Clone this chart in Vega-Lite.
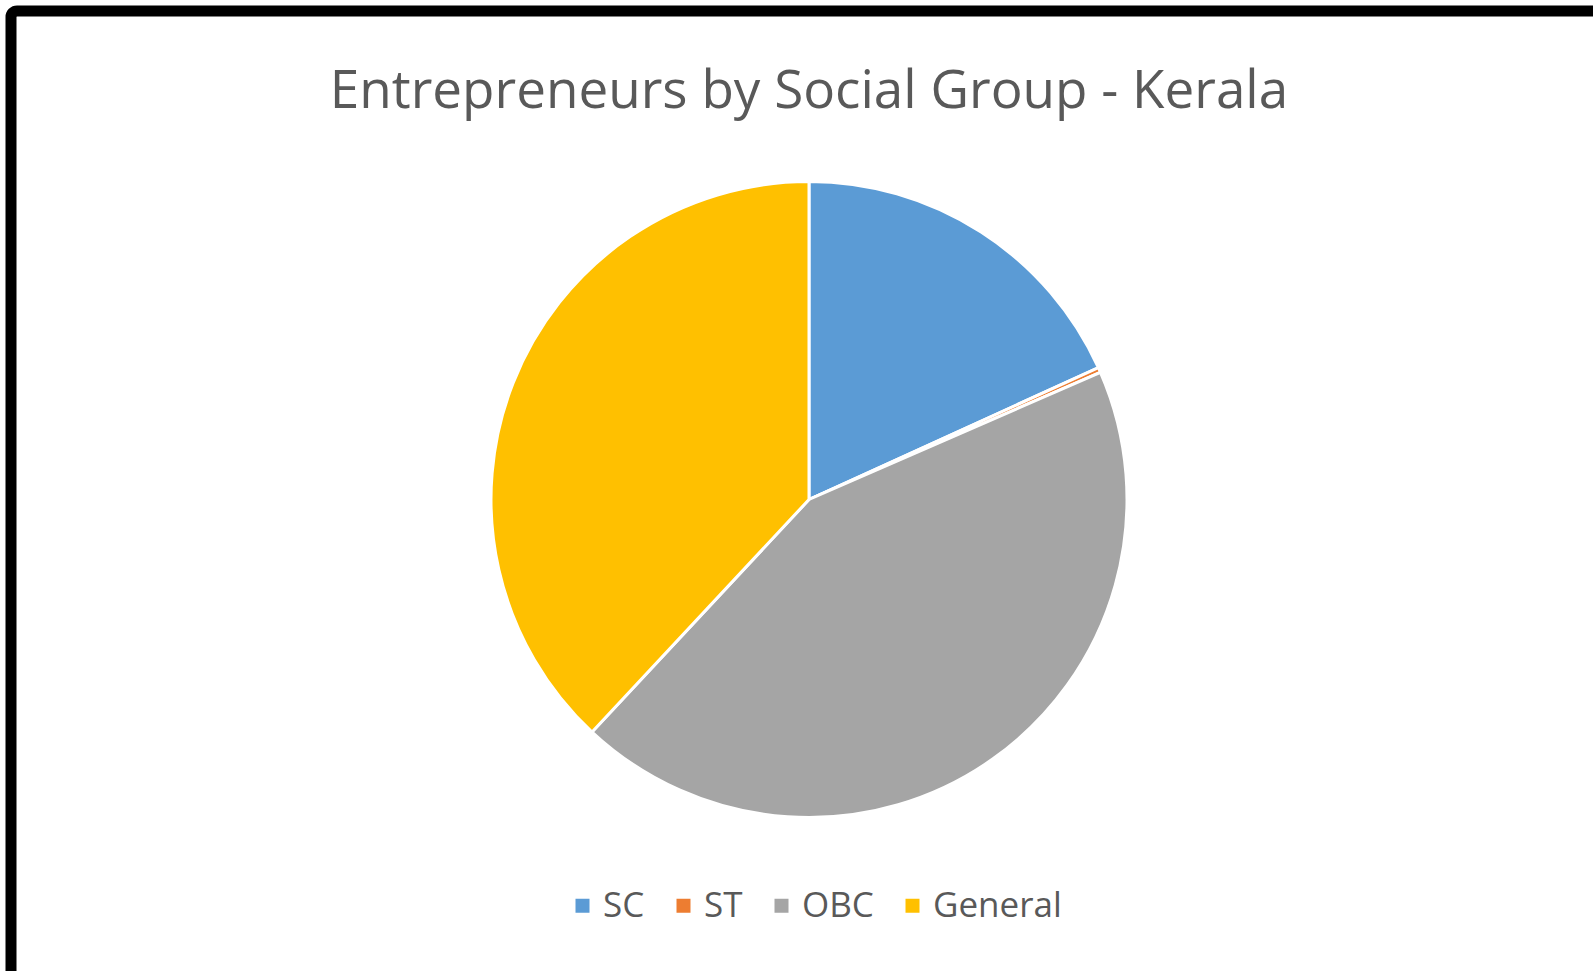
{
  "$schema": "https://vega.github.io/schema/vega-lite/v6.json",
  "autosize": {"type": "none"},
  "padding": {"left": 11, "top": 11, "right": 0, "bottom": 0},
  "width": 1596,
  "height": 977,
  "background": "white",
  "view": {"stroke": "black", "strokeWidth": 11, "cornerRadius": 6},
  "title": {
    "text": "Entrepreneurs by Social Group - Kerala",
    "font": "Open Sans",
    "fontSize": 53,
    "fontWeight": "normal",
    "color": "#595959",
    "anchor": "middle",
    "baseline": "alphabetic",
    "offset": -150
  },
  "data": {
    "values": [
      {"group": "SC", "share": 18.2, "rank": 1},
      {"group": "ST", "share": 0.25, "rank": 2},
      {"group": "OBC", "share": 43.5, "rank": 3},
      {"group": "General", "share": 38.05, "rank": 4}
    ]
  },
  "mark": {"type": "arc", "outerRadius": 318, "stroke": "white", "strokeWidth": 3},
  "encoding": {
    "theta": {"field": "share", "type": "quantitative", "stack": true},
    "order": {"field": "rank", "type": "quantitative"},
    "color": {
      "field": "group",
      "type": "nominal",
      "scale": {
        "domain": ["SC", "ST", "OBC", "General"],
        "range": ["#5B9BD5", "#ED7D31", "#A5A5A5", "#FFC000"]
      },
      "legend": {
        "title": null,
        "orient": "none",
        "legendX": 554,
        "legendY": 877,
        "direction": "horizontal",
        "symbolType": "square",
        "symbolSize": 196,
        "symbolStrokeWidth": 0,
        "symbolOpacity": 1,
        "labelFont": "Open Sans",
        "labelFontSize": 35,
        "labelColor": "#595959",
        "labelOffset": 3,
        "columnPadding": 21
      }
    }
  },
  "config": {
    "view": {"stroke": "black", "strokeWidth": 11, "cornerRadius": 6}
  }
}
